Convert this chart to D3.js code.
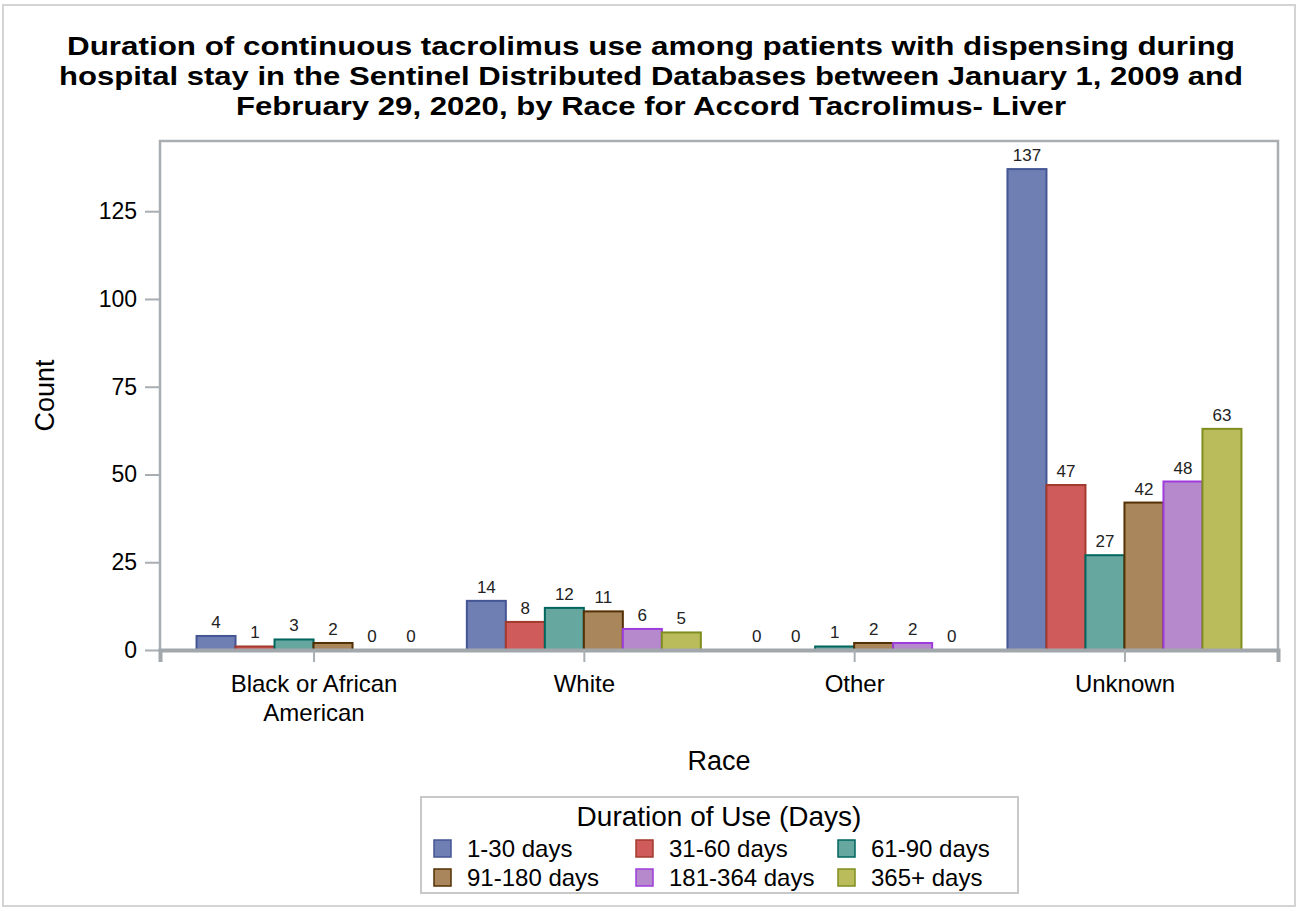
<html>
<head>
<meta charset="utf-8">
<title>Tacrolimus duration by race</title>
<script src="https://cdn.jsdelivr.net/npm/d3@7"></script>
<style>
    body { margin:0; background:#fff; }
    text { font-family: "Liberation Sans", Arial, sans-serif; fill:#000; }
    .title { font-weight:bold; font-size:25px; }
    .tick text { font-size:23px; }
    .xax .tick text { font-size:24px; }
    .lbl { font-size:17px; fill:#222; }
    .axlabel { font-size:27px; }
</style>
</head>
<body>
<div id="chart"></div>
<script>
    var width = 1298, height = 911;

    // data
    var races = ["Black or African American", "White", "Other", "Unknown"];
    var durations = ["1-30 days", "31-60 days", "61-90 days", "91-180 days", "181-364 days", "365+ days"];
    var d1_30    = [4, 14, 0, 137];
    var d31_60   = [1, 8, 0, 47];
    var d61_90   = [3, 12, 1, 27];
    var d91_180  = [2, 11, 2, 42];
    var d181_364 = [0, 6, 2, 48];
    var d365     = [0, 5, 0, 63];
    var yTicks = [0, 25, 50, 75, 100, 125];

    var seriesVals = [d1_30, d31_60, d61_90, d91_180, d181_364, d365];
    var fills = ["#6F7EB3", "#D05B5B", "#66A8A0", "#A9865B", "#B689CD", "#BABC5C"];
    var strokes = ["#445694", "#A23A2E", "#01665E", "#543005", "#9D3CDB", "#7F8E1F"];

    var svg = d3.select("#chart").append("svg")
        .attr("width", width).attr("height", height);

    // outer border
    svg.append("rect").attr("x", 3).attr("y", 5).attr("width", width - 6).attr("height", height - 10)
        .attr("fill", "none").attr("stroke", "#d4d4d4").attr("stroke-width", 2);

    var titleLines = ["Duration of continuous tacrolimus use among patients with dispensing during",
        "hospital stay in the Sentinel Distributed Databases between January 1, 2009 and",
        "February 29, 2020, by Race for Accord Tacrolimus- Liver"];
    var titleW = [1168, 1184, 830];
    svg.selectAll(".title").data(titleLines).enter().append("text")
        .attr("class", "title")
        .attr("x", 651).attr("y", (d, i) => 55 + i * 30)
        .attr("text-anchor", "middle")
        .attr("textLength", (d, i) => titleW[i])
        .attr("lengthAdjust", "spacingAndGlyphs")
        .text(d => d);

    var pLeft = 160, pRight = 1278, pTop = 141, pBottom = 650;

    var x = d3.scalePoint().domain(races).range([pLeft, pRight]).padding(0.568);
    var y = d3.scaleLinear().domain([0, 145]).range([pBottom, pTop]);
    var xs = d3.scaleBand().domain(durations).range([-117, 117]);

    // frame
    svg.append("path")
        .attr("d", "M" + pLeft + "," + pBottom + "V" + pTop + "H" + pRight + "V" + pBottom)
        .attr("fill", "none").attr("stroke", "#A9AEB2").attr("stroke-width", 2.5);

    // y axis
    var yAxis = svg.append("g").attr("transform", "translate(" + pLeft + ",0)")
        .call(d3.axisLeft(y).tickValues(yTicks).tickSize(15).tickPadding(8));
    yAxis.select(".domain").remove();
    yAxis.selectAll(".tick line").attr("stroke", "#A9AEB2").attr("stroke-width", 2);

    // bars
    var rows = [];
    races.forEach(function (r, i) {
        durations.forEach(function (s, j) {
            rows.push({race: r, dur: s, j: j, v: seriesVals[j][i]});
        });
    });

    var bars = svg.append("g");
    bars.selectAll("rect").data(rows).enter().append("rect")
        .attr("x", d => x(d.race) + xs(d.dur))
        .attr("y", d => y(d.v))
        .attr("width", xs.bandwidth())
        .attr("height", d => y(0) - y(d.v))
        .attr("fill", d => fills[d.j])
        .attr("stroke", d => strokes[d.j])
        .attr("stroke-width", 2);

    bars.selectAll("text").data(rows).enter().append("text")
        .attr("class", "lbl")
        .attr("x", d => x(d.race) + xs(d.dur) + xs.bandwidth() / 2)
        .attr("y", d => y(d.v) - 8)
        .attr("text-anchor", "middle")
        .text(d => d.v);

    // x axis
    var xAxis = svg.append("g").attr("class", "xax").attr("transform", "translate(0," + pBottom + ")")
        .call(d3.axisBottom(x).tickSize(12).tickPadding(13));
    xAxis.select(".domain").attr("stroke", "#A2A7AB").attr("stroke-width", 4);
    xAxis.selectAll(".tick line").attr("stroke", "#A9AEB2").attr("stroke-width", 2);
    xAxis.selectAll(".tick text").each(function (d) {
        var t = d3.select(this);
        if (d == "Black or African American") {
            t.text(null);
            t.append("tspan").attr("x", 0).attr("dy", "0.71em").text("Black or African");
            t.append("tspan").attr("x", 0).attr("dy", "1.22em").text("American");
        }
    });

    svg.append("text").attr("class", "axlabel")
        .attr("transform", "translate(54," + (pTop + pBottom) / 2 + ")rotate(-90)")
        .attr("text-anchor", "middle").text("Count");
    svg.append("text").attr("class", "axlabel")
        .attr("x", (pLeft + pRight) / 2).attr("y", 770)
        .attr("text-anchor", "middle").text("Race");

    // legend
    var lg = svg.append("g").attr("transform", "translate(421,797)");
    lg.append("rect").attr("width", 597).attr("height", 96)
        .attr("fill", "none").attr("stroke", "#C8C8C8").attr("stroke-width", 2);
    lg.append("text").attr("class", "axlabel").attr("x", 298).attr("y", 29)
        .style("font-size", "28px")
        .attr("text-anchor", "middle").text("Duration of Use (Days)");
    var items = lg.selectAll(".item").data(durations).enter().append("g")
        .attr("transform", (d, i) => "translate(" + (13 + (i % 3) * 202) + "," + (43 + Math.floor(i / 3) * 29) + ")");
    items.append("rect").attr("width", 17).attr("height", 17)
        .attr("fill", (d, i) => fills[i]).attr("stroke", (d, i) => strokes[i]).attr("stroke-width", 1.5);
    items.append("text").attr("x", 33).attr("y", 17).style("font-size", "24px").text(d => d);
</script>
</body>
</html>
